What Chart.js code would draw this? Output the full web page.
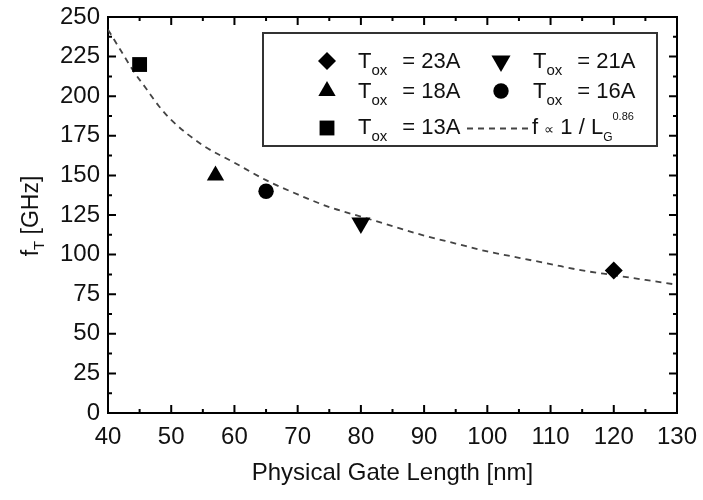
<!DOCTYPE html>
<html>
<head>
<meta charset="utf-8">
<script src="https://cdn.jsdelivr.net/npm/chart.js@4/dist/chart.umd.min.js"></script>
<style>
  html, body { margin: 0; padding: 0; background: #fff; }
</style>
</head>
<body>
<canvas id="c" width="703" height="500"></canvas>
<script>
// ==== data ====
const oxideLabels = ["23A", "21A", "18A", "16A", "13A"];
const gateLength  = [120, 80, 57, 65, 45];      // nm
const cutoffFreq  = [90, 120, 150, 140, 220];   // GHz

// f ~ 1 / L^0.86 fit curve
const fitLength = [40, 42, 44, 46, 48, 50, 55, 60, 65, 70, 75, 80, 85, 90, 95, 100, 105, 110, 115, 120, 125, 130];
const fitFreq   = [242, 229, 216, 205, 194, 185, 169, 158, 147, 138, 130, 124, 118, 112, 107, 102, 98, 94, 90, 87, 84, 81];

const xTicks = [40, 50, 60, 70, 80, 90, 100, 110, 120, 130];
const yTicks = [0, 25, 50, 75, 100, 125, 150, 175, 200, 225, 250];

// ==== styles ====
const FONT = '"Liberation Sans", Arial, Helvetica, sans-serif';
const markStyle  = ["rectRot", "triangle", "triangle", "circle", "rect"];
const markRot    = [0, 180, 0, 0, 0];
const markRadius = [9, 11, 10, 7.7, 10.5];

const datasets = oxideLabels.map((lab, i) => ({
  label: "Tox = " + lab,
  data: [{ x: gateLength[i], y: cutoffFreq[i] }],
  pointStyle: markStyle[i],
  pointRotation: markRot[i],
  pointRadius: markRadius[i],
  pointHoverRadius: markRadius[i],
  backgroundColor: "#000",
  borderColor: "#000",
  borderWidth: 0,
  showLine: false,
  order: 1
}));

datasets.push({
  label: "fit",
  data: fitLength.map((v, i) => ({ x: v, y: fitFreq[i] })),
  showLine: true,
  pointRadius: 0,
  borderColor: "#444",
  borderWidth: 1.8,
  borderDash: [6, 5],
  cubicInterpolationMode: "monotone",
  fill: false,
  order: 2
});

// draw text pieces with sub/superscripts
function drawRich(ctx, x, y, parts) {
  let cx = x;
  parts.forEach(p => {
    cx += p.dx || 0;
    ctx.font = p.size + "px " + FONT;
    ctx.fillText(p.t, cx, y + (p.dy || 0));
    cx += ctx.measureText(p.t).width;
  });
  return cx - x;
}
function richWidth(ctx, parts) {
  let w = 0;
  parts.forEach(p => {
    ctx.font = p.size + "px " + FONT;
    w += (p.dx || 0) + ctx.measureText(p.t).width;
  });
  return w;
}

function drawMark(ctx, i, x, y) {
  ctx.fillStyle = "#000";
  ctx.strokeStyle = "#000";
  Chart.helpers.drawPoint(ctx, {
    pointStyle: markStyle[i], rotation: markRot[i], radius: markRadius[i], borderWidth: 0
  }, x, y);
}

// ==== frame + inward ticks ====
const frameTicks = {
  id: "frameTicks",
  beforeDatasetsDraw(chart) {
    const { ctx, chartArea: a, scales: { x, y } } = chart;
    ctx.save();
    ctx.strokeStyle = "#000";
    ctx.lineWidth = 2;
    ctx.strokeRect(a.left, a.top, a.right - a.left, a.bottom - a.top);
    ctx.beginPath();
    const xs = xTicks[1] - xTicks[0];
    for (let v = xTicks[0]; v <= xTicks[xTicks.length - 1]; v += xs / 2) {
      const px = x.getPixelForValue(v);
      const len = (v - xTicks[0]) % xs === 0 ? 8 : 4;
      ctx.moveTo(px, a.bottom); ctx.lineTo(px, a.bottom - len);
      ctx.moveTo(px, a.top);    ctx.lineTo(px, a.top + len);
    }
    const ys = yTicks[1] - yTicks[0];
    for (let v = yTicks[0]; v <= yTicks[yTicks.length - 1]; v += ys / 2) {
      const py = y.getPixelForValue(v);
      const len = (v - yTicks[0]) % ys === 0 ? 8 : 4;
      ctx.moveTo(a.left, py);  ctx.lineTo(a.left + len, py);
      ctx.moveTo(a.right, py); ctx.lineTo(a.right - len, py);
    }
    ctx.stroke();
    ctx.restore();
  }
};

// ==== y title (f_T) + legend box ====
const extras = {
  id: "extras",
  afterDraw(chart) {
    const ctx = chart.ctx;
    ctx.save();
    ctx.fillStyle = "#111";
    ctx.textBaseline = "alphabetic";

    // y axis title, rotated
    const yt = [{ t: "f", size: 23 }, { t: "T", size: 15, dy: 6 }, { t: " [GHz]", size: 23 }];
    const w = richWidth(ctx, yt);
    ctx.translate(38, 216);
    ctx.rotate(-Math.PI / 2);
    drawRich(ctx, -w / 2, 0, yt);
    ctx.setTransform(1, 0, 0, 1, 0, 0);

    // legend box
    ctx.fillStyle = "#fff";
    ctx.fillRect(263, 33, 394, 113);
    ctx.strokeStyle = "#333";
    ctx.lineWidth = 2;
    ctx.strokeRect(263, 33, 394, 113);

    const cells = [
      { i: 0, mx: 327, my: 61, tx: 358, by: 68 },
      { i: 1, mx: 501, my: 61, tx: 533, by: 68 },
      { i: 2, mx: 327, my: 91, tx: 358, by: 98 },
      { i: 3, mx: 501, my: 91, tx: 533, by: 98 },
      { i: 4, mx: 327, my: 128, tx: 358, by: 134 }
    ];
    cells.forEach(c => {
      drawMark(ctx, c.i, c.mx, c.my);
      ctx.fillStyle = "#111";
      drawRich(ctx, c.tx, c.by, [
        { t: "T", size: 22 },
        { t: "ox", size: 15, dy: 7 },
        { t: "= " + oxideLabels[c.i], size: 22, dx: 15 }
      ]);
    });

    // fit entry
    ctx.strokeStyle = "#444";
    ctx.lineWidth = 1.8;
    ctx.setLineDash([6, 5]);
    ctx.beginPath();
    ctx.moveTo(467, 128.5);
    ctx.lineTo(529, 128.5);
    ctx.stroke();
    ctx.setLineDash([]);
    ctx.fillStyle = "#111";
    drawRich(ctx, 532, 134, [
      { t: "f ", size: 22 },
      { t: "\u221D", size: 14 },
      { t: " 1 / L", size: 22 },
      { t: "G", size: 12, dy: 7 },
      { t: "0.86", size: 11, dy: -14 }
    ]);
    ctx.restore();
  }
};

new Chart(document.getElementById("c"), {
  type: "scatter",
  data: { datasets },
  options: {
    responsive: false,
    animation: false,
    layout: { padding: { left: 0, right: 26, top: 17, bottom: 0 } },
    plugins: { legend: { display: false }, tooltip: { enabled: false } },
    scales: {
      x: {
        type: "linear",
        min: xTicks[0],
        max: xTicks[xTicks.length - 1],
        afterBuildTicks: s => { s.ticks = xTicks.map(v => ({ value: v })); },
        afterFit: s => { s.height = 87; s.paddingLeft = 0; s.paddingRight = 0; },
        grid: { display: false, drawTicks: false },
        border: { display: false },
        ticks: { color: "#111", padding: 10, maxRotation: 0, font: { family: FONT, size: 24 } },
        title: {
          display: true,
          text: "Physical Gate Length [nm]",
          color: "#111",
          padding: { top: 0, bottom: 12 },
          font: { family: FONT, size: 24 }
        }
      },
      y: {
        type: "linear",
        min: yTicks[0],
        max: yTicks[yTicks.length - 1],
        afterBuildTicks: s => { s.ticks = yTicks.map(v => ({ value: v })); },
        afterFit: s => { s.width = 108; s.paddingTop = 0; s.paddingBottom = 0; },
        grid: { display: false, drawTicks: false },
        border: { display: false },
        ticks: { color: "#111", padding: 8, font: { family: FONT, size: 24 } },
        title: { display: false }
      }
    }
  },
  plugins: [frameTicks, extras]
});
</script>
</body>
</html>
